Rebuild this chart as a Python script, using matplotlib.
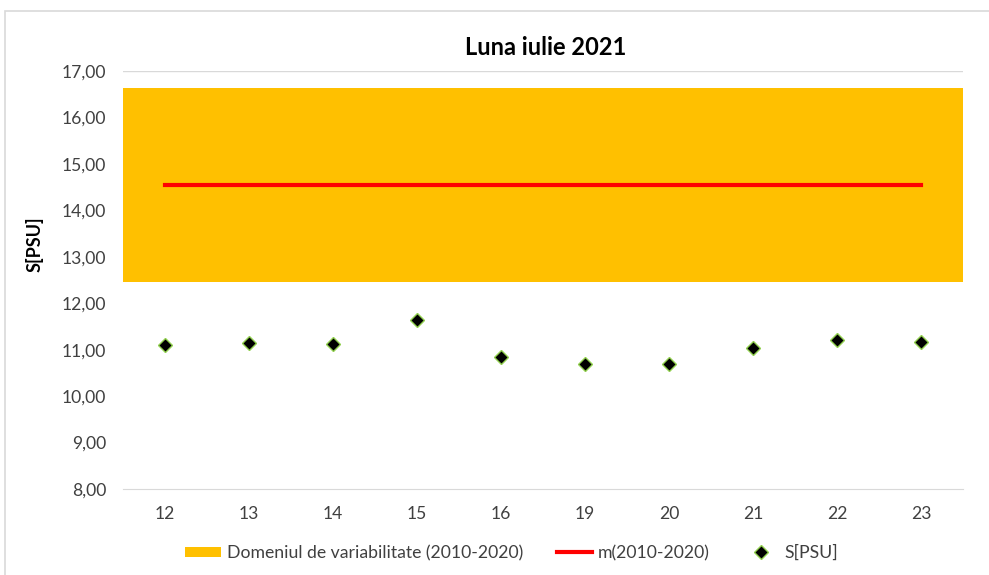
import numpy as np
import matplotlib.pyplot as plt
from matplotlib.patches import Rectangle

plt.rcParams['font.family'] = ['Lato', 'DejaVu Sans']

# date (zile din iulie 2021)
zile = ['12', '13', '14', '15', '16', '19', '20', '21', '22', '23']
s_psu = [11.09, 11.14, 11.12, 11.63, 10.84, 10.69, 10.69, 11.03, 11.20, 11.16]
dom_min = 12.45
dom_max = 16.63
media = 14.54

fig = plt.figure(figsize=(9.89, 5.75), dpi=100)
ax = fig.add_axes([0.1244, 0.1496, 0.8493, 0.7269])

x = np.arange(len(zile))
ax.fill_between([-0.5, len(zile) - 0.5], [dom_min, dom_min], [dom_max, dom_max],
                color='#FFC000', lw=0, label='Domeniul de variabilitate (2010-2020)')
ax.plot(x, [media] * len(zile), color='#FF0000', lw=3, label='m(2010-2020)')
ax.plot(x, s_psu, 'D', color='black', markeredgecolor='#92D050', markeredgewidth=1,
        markersize=7, label='S[PSU]')

ax.axhline(17, color='#D9D9D9', lw=1)
ax.set_xlim(-0.5, len(zile) - 0.5)
ax.set_ylim(8, 17)
ax.set_xticks(x)
ax.set_xticklabels(zile)
yt = np.arange(8, 18)
ax.set_yticks(yt)
ax.set_yticklabels([('%.2f' % v).replace('.', ',') for v in yt])
ax.tick_params(length=0, labelsize=12.6, colors='#404040')
ax.tick_params(axis='y', pad=12)
ax.tick_params(axis='x', pad=12)
for s in ['top', 'right', 'left']:
    ax.spines[s].set_visible(False)
ax.spines['bottom'].set_color('#D9D9D9')

ax.set_ylabel('S[PSU]', fontsize=13, fontweight='bold')
ax.yaxis.set_label_coords(-0.095, 0.586)
fig.text(0.552, 0.918, 'Luna iulie 2021', ha='center', va='center',
         fontsize=17, fontweight='bold')

leg = ax.legend(loc='center', bbox_to_anchor=(0.463, -0.153), ncol=3, frameon=False,
                fontsize=12.7, handlelength=2.0, handleheight=0.5, columnspacing=1.9,
                handletextpad=0.35, borderpad=0)
for t in leg.get_texts():
    t.set_color('#404040')

fig.patches.append(Rectangle((5 / 989, -0.1), 1.2, 1 - 11 / 575 + 0.1,
                             transform=fig.transFigure, fill=False,
                             edgecolor='#D9D9D9', lw=1.2))

plt.savefig('out.png', dpi=100)
